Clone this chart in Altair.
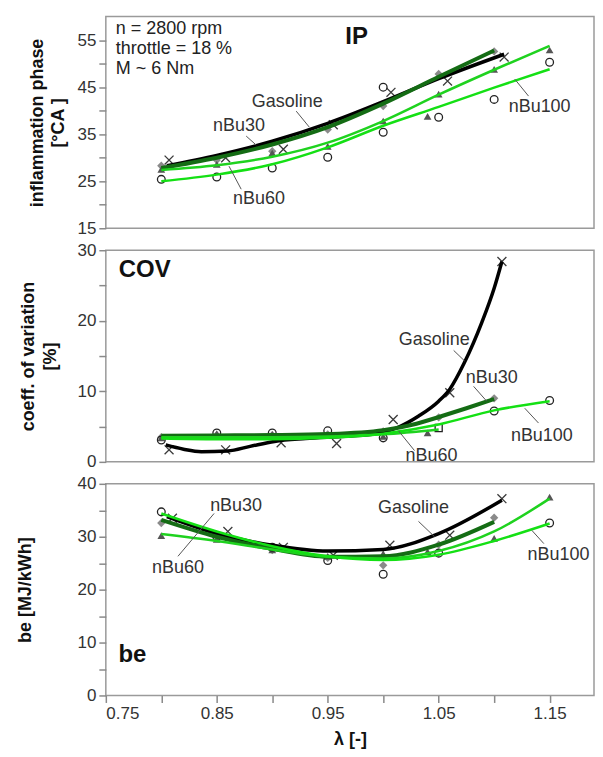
import altair as alt
import pandas as pd

FONT = "Liberation Sans"

# ---------------- IP panel (inflammation phase, °CA) ----------------
IP_GAS_CURVE = [(0.805, 28.3), (0.85, 30.5), (0.9, 33.5), (0.95, 37.3), (1.0, 41.9), (1.05, 46.8), (1.109, 52.0)]
IP_B30_CURVE = [(0.8, 27.8), (0.85, 30.0), (0.9, 32.8), (0.95, 36.5), (1.0, 41.5), (1.05, 47.2), (1.1, 52.8)]
IP_B60_CURVE = [(0.8, 27.4), (0.85, 28.4), (0.9, 30.2), (0.95, 33.2), (1.0, 37.8), (1.05, 43.4), (1.1, 48.7), (1.15, 53.8)]
IP_B100_CURVE = [(0.8, 25.0), (0.85, 26.4), (0.9, 28.6), (0.95, 32.2), (1.0, 36.8), (1.05, 40.8), (1.1, 44.9), (1.15, 48.8)]

IP_GAS_PTS = [(0.807, 29.5), (0.858, 30.0), (0.91, 31.8), (0.955, 37.0), (1.007, 43.9), (1.058, 46.3), (1.109, 51.4)]
IP_B30_PTS = [(0.8, 28.3), (0.85, 29.5), (0.9, 31.4), (0.95, 36.0), (1.0, 41.0), (1.05, 47.8), (1.1, 52.6)]
IP_B60_PTS = [(0.8, 27.5), (0.85, 28.6), (0.9, 31.0), (0.95, 32.4), (1.0, 37.8), (1.04, 38.8), (1.05, 43.5), (1.1, 48.8), (1.15, 52.9)]
IP_B100_PTS = [(0.8, 25.4), (0.85, 25.9), (0.9, 27.8), (0.95, 30.1), (1.0, 35.4), (1.0, 45.0), (1.05, 38.6), (1.1, 42.4), (1.15, 50.3)]

IP_LABELS = [("Gasoline", 0.9135, 41.8), ("nBu30", 0.870, 36.7), ("nBu60", 0.888, 21.2), ("nBu100", 1.141, 40.7)]
IP_LEADERS = [(0.9216, 39.9, 0.9334, 36.5), (0.8765, 34.6, 0.8855, 32.7), (0.861, 28.2, 0.872, 23.3), (1.1186, 46.7, 1.131, 43.1)]
IP_INFO = [("n = 2800 rpm", 0.759, 57.3), ("throttle = 18 %", 0.759, 53.1), ("M ~ 6 Nm", 0.759, 48.8)]
IP_TAG = ("IP", 0.976, 55.6)

# ---------------- COV panel (coefficient of variation, %) ----------------
COV_GAS_CURVE = [(0.804, 2.4), (0.82, 1.8), (0.836, 1.45), (0.86, 1.55), (0.88, 2.2), (0.902, 2.9), (0.93, 3.3),
                 (0.962, 3.6), (0.99, 3.9), (1.012, 4.8), (1.032, 6.5), (1.05, 8.6), (1.06, 10.3), (1.073, 14.0),
                 (1.089, 19.8), (1.1, 24.6), (1.107, 28.4)]
COV_B30_CURVE = [(0.8, 3.7), (0.85, 3.75), (0.9, 3.8), (0.95, 3.95), (1.0, 4.5), (1.03, 5.4), (1.053, 6.5), (1.075, 7.6), (1.1, 8.9)]
COV_B60_CURVE = [(0.8, 3.5), (0.85, 3.5), (0.9, 3.5), (0.95, 3.6), (1.0, 3.9), (1.05, 4.6)]
COV_B100_CURVE = [(0.8, 3.3), (0.85, 3.2), (0.9, 3.2), (0.95, 3.4), (1.0, 4.0), (1.05, 5.3), (1.1, 7.3), (1.15, 8.6)]

COV_GAS_PTS = [(0.807, 1.7), (0.858, 1.7), (0.908, 2.7), (0.958, 2.6), (1.009, 6.0), (1.06, 9.8), (1.107, 28.4)]
COV_B30_PTS = [(0.8, 3.5), (0.85, 3.8), (0.9, 3.8), (0.95, 3.9), (1.0, 4.3), (1.05, 6.3), (1.1, 9.0)]
COV_B60_PTS = [(0.8, 3.4), (0.85, 4.0), (0.9, 3.9), (0.95, 3.8), (1.0, 3.6), (1.04, 4.1)]
COV_B100_PTS = [(0.8, 3.1), (0.85, 4.1), (0.9, 4.1), (0.95, 4.4), (1.0, 3.4), (1.1, 7.2), (1.15, 8.7)]
COV_SQUARE_PTS = [(1.05, 4.8)]

COV_LABELS = [("Gasoline", 1.046, 17.3), ("nBu30", 1.0978, 11.9), ("nBu60", 1.0436, 0.85), ("nBu100", 1.143, 3.7)]
COV_LEADERS = [(1.0635, 15.8, 1.0734, 14.3), (1.0815, 10.7, 1.0933, 8.6), (1.0138, 4.4, 1.0282, 1.6), (1.1276, 7.6, 1.140, 5.5)]
COV_TAG = ("COV", 0.785, 27.2)

# ---------------- be panel (MJ/kWh) ----------------
BE_GAS_CURVE = [(0.805, 33.8), (0.85, 30.6), (0.9, 28.4), (0.95, 27.3), (1.0, 27.6), (1.05, 30.6), (1.107, 36.9)]
BE_B30_CURVE = [(0.8, 33.2), (0.85, 30.0), (0.9, 27.7), (0.95, 26.2), (1.0, 26.3), (1.05, 28.5), (1.1, 32.8)]
BE_B60_CURVE = [(0.8, 30.5), (0.85, 29.2), (0.9, 27.6), (0.95, 26.2), (1.0, 25.9), (1.05, 27.3), (1.1, 31.0), (1.15, 37.2)]
BE_B100_CURVE = [(0.8, 34.4), (0.85, 31.0), (0.9, 28.2), (0.95, 26.3), (1.0, 25.6), (1.05, 26.6), (1.1, 29.2), (1.15, 32.5)]

BE_GAS_PTS = [(0.81, 33.5), (0.86, 31.0), (0.91, 28.0), (0.955, 26.5), (1.006, 28.4), (1.06, 30.3), (1.107, 37.2)]
BE_B30_PTS = [(0.8, 32.6), (0.85, 30.0), (0.9, 27.5), (0.95, 26.0), (1.0, 24.6), (1.05, 28.5), (1.1, 33.6)]
BE_B60_PTS = [(0.8, 30.2), (0.85, 29.5), (0.9, 27.5), (0.95, 26.3), (1.0, 26.8), (1.04, 27.2), (1.1, 29.7), (1.15, 37.5)]
BE_B100_PTS = [(0.8, 34.7), (0.85, 30.0), (0.9, 28.0), (0.95, 25.5), (1.0, 22.9), (1.05, 26.9), (1.15, 32.6)]

BE_LABELS = [("nBu30", 0.8674, 35.9), ("nBu60", 0.815, 24.0), ("Gasoline", 1.0273, 35.5), ("nBu100", 1.158, 26.5)]
BE_LEADERS = [(0.8476, 34.4, 0.815, 26.3), (1.0318, 32.9, 1.0463, 30.0), (1.134, 31.2, 1.1448, 28.7)]
BE_TAG = ("be", 0.774, 7.7)

X_TICKS = [0.75, 0.8, 0.85, 0.9, 0.95, 1.0, 1.05, 1.1, 1.15]

LINE_STYLE = {
    "Gasoline": dict(color="#000000", strokeWidth=3.5),
    "nBu30": dict(color="#146c14", strokeWidth=4),
    "nBu60": dict(color="#1fd21f", strokeWidth=2.5),
    "nBu100": dict(color="#14e014", strokeWidth=2.5),
}
CROSS = "M-1,-1L1,1M-1,1L1,-1"
POINT_STYLE = {
    "Gasoline": dict(shape=CROSS, filled=False, color="#3a3a3a", size=80, strokeWidth=1.3),
    "nBu30": dict(shape="diamond", filled=True, color="#8a8a8a", size=70),
    "nBu60": dict(shape="triangle-up", filled=True, color="#555555", size=60),
    "nBu100": dict(shape="circle", filled=False, color="#222222", size=60, strokeWidth=1.3),
    "square": dict(shape="square", filled=False, color="#222222", size=50, strokeWidth=1.3),
}


def df_pts(pts):
    return pd.DataFrame(pts, columns=["x", "y"])


def make_panel(curves, points, labels, leaders, texts, tag, ydom, yvals, ymod, ytitle, tpad, height, show_x):
    xscale = alt.Scale(domain=[0.75, 1.19], nice=False, zero=False)
    if show_x:
        xaxis = alt.Axis(values=X_TICKS, format=".2f",
                         labelExpr="round(datum.value*100) % 10 == 5 ? datum.label : ''",
                         tickSize=7, tickColor="#8a8a8a", tickWidth=1.5, domain=False, grid=False,
                         labelFont=FONT, labelFontSize=17, labelColor="#333333", labelPadding=3,
                         title="λ [-]", titleFont=FONT, titleFontSize=18, titleFontWeight="bold",
                         titleColor="#111111", titlePadding=9)
    else:
        xaxis = None
    yaxis = alt.Axis(values=yvals, labelExpr=f"datum.value % 10 == {ymod} ? datum.label : ''",
                     tickSize=7, tickColor="#8a8a8a", tickWidth=1.5, domain=False, grid=False,
                     labelFont=FONT, labelFontSize=17, labelColor="#333333", labelPadding=3,
                     title=ytitle, titleFont=FONT, titleFontSize=18, titleFontWeight="bold",
                     titleColor="#111111", titlePadding=tpad, titleLineHeight=22)
    X = alt.X("x:Q", scale=xscale, axis=xaxis)
    Y = alt.Y("y:Q", scale=alt.Scale(domain=ydom, nice=False, zero=False), axis=yaxis)

    layers = []
    for name, pts in points:
        layers.append(alt.Chart(df_pts(pts)).mark_point(opacity=1, **POINT_STYLE[name]).encode(x=X, y=Y))
    for name, pts in curves:
        layers.append(alt.Chart(df_pts(pts)).mark_line(interpolate="monotone", **LINE_STYLE[name]).encode(x=X, y=Y))
    lead_df = pd.DataFrame(leaders, columns=["x", "y", "x2", "y2"])
    layers.append(alt.Chart(lead_df).mark_rule(color="#555555", strokeWidth=1).encode(
        x=X, y=Y, x2="x2:Q", y2="y2:Q"))
    lab_df = pd.DataFrame(labels, columns=["t", "x", "y"])
    layers.append(alt.Chart(lab_df).mark_text(font=FONT, fontSize=18, color="#333333",
                                              align="center", baseline="middle").encode(x=X, y=Y, text="t:N"))
    if texts:
        info_df = pd.DataFrame(texts, columns=["t", "x", "y"])
        layers.append(alt.Chart(info_df).mark_text(font=FONT, fontSize=18, color="#222222",
                                                   align="left", baseline="middle").encode(x=X, y=Y, text="t:N"))
    tag_df = pd.DataFrame([tag], columns=["t", "x", "y"])
    layers.append(alt.Chart(tag_df).mark_text(font=FONT, fontSize=24, fontWeight="bold", color="#111111",
                                              align="center", baseline="middle").encode(x=X, y=Y, text="t:N"))
    return alt.layer(*layers).properties(width=489, height=height)


ip = make_panel(
    curves=[("Gasoline", IP_GAS_CURVE), ("nBu30", IP_B30_CURVE), ("nBu60", IP_B60_CURVE), ("nBu100", IP_B100_CURVE)],
    points=[("Gasoline", IP_GAS_PTS), ("nBu30", IP_B30_PTS), ("nBu60", IP_B60_PTS), ("nBu100", IP_B100_PTS)],
    labels=IP_LABELS, leaders=IP_LEADERS, texts=IP_INFO, tag=IP_TAG,
    ydom=[15, 60], yvals=[15, 20, 25, 30, 35, 40, 45, 50, 55], ymod=5,
    ytitle=["inflammation phase", "[°CA ]"], tpad=9, height=212, show_x=False)

cov = make_panel(
    curves=[("Gasoline", COV_GAS_CURVE), ("nBu30", COV_B30_CURVE), ("nBu60", COV_B60_CURVE), ("nBu100", COV_B100_CURVE)],
    points=[("Gasoline", COV_GAS_PTS), ("nBu30", COV_B30_PTS), ("nBu60", COV_B60_PTS), ("nBu100", COV_B100_PTS),
            ("square", COV_SQUARE_PTS)],
    labels=COV_LABELS, leaders=COV_LEADERS, texts=None, tag=COV_TAG,
    ydom=[0, 30], yvals=[0, 5, 10, 15, 20, 25, 30], ymod=0,
    ytitle=["coeff. of variation", "[%]"], tpad=18, height=212, show_x=False)

be = make_panel(
    curves=[("Gasoline", BE_GAS_CURVE), ("nBu30", BE_B30_CURVE), ("nBu60", BE_B60_CURVE), ("nBu100", BE_B100_CURVE)],
    points=[("Gasoline", BE_GAS_PTS), ("nBu30", BE_B30_PTS), ("nBu60", BE_B60_PTS), ("nBu100", BE_B100_PTS)],
    labels=BE_LABELS, leaders=BE_LEADERS, texts=None, tag=BE_TAG,
    ydom=[0, 40], yvals=[0, 5, 10, 15, 20, 25, 30, 35, 40], ymod=0,
    ytitle="be [MJ/kWh]", tpad=43, height=212, show_x=True)

chart = alt.vconcat(ip, cov, be, spacing=22, bounds="flush").properties(
    padding={"left": 7, "top": 7, "right": 0, "bottom": 0},
    background="white",
).configure_view(stroke="#9a9a9a", strokeWidth=1.5)

chart.save("out.html", embed_options={"renderer": "svg", "actions": False})
